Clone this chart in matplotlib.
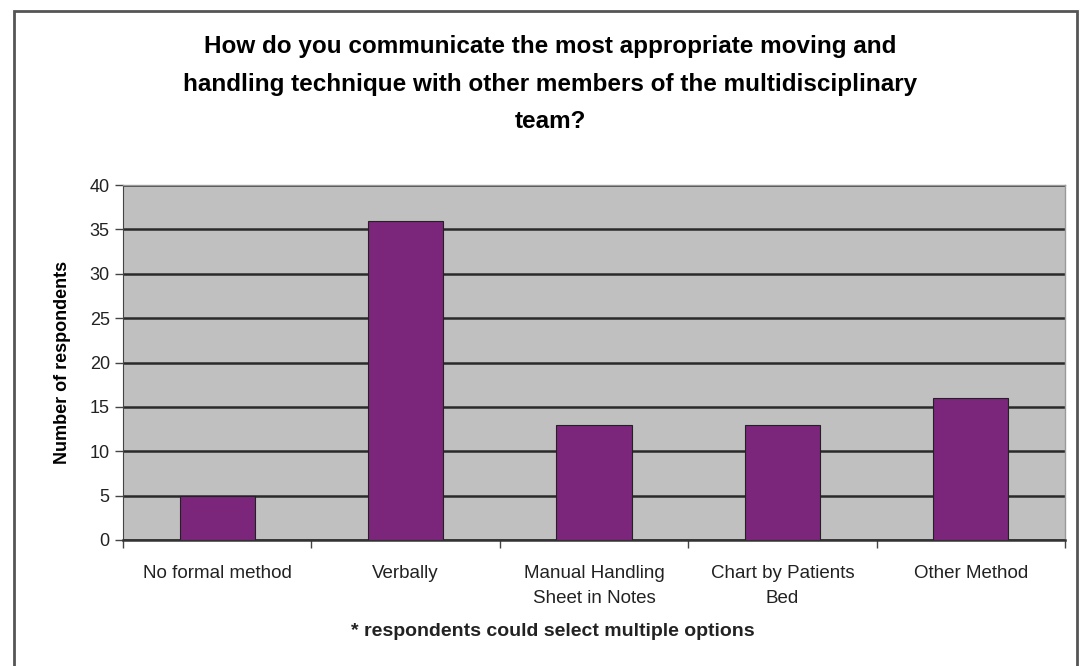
import matplotlib
matplotlib.use("Agg")
import matplotlib.pyplot as plt
from matplotlib.patches import Rectangle

categories = ["No formal method", "Verbally", "Manual Handling\nSheet in Notes",
              "Chart by Patients\nBed", "Other Method"]
values = [5, 36, 13, 13, 16]
y_ticks = [0, 5, 10, 15, 20, 25, 30, 35, 40]

title = ("How do you communicate the most appropriate moving and\n"
         "handling technique with other members of the multidisciplinary\n"
         "team?")
footnote = "* respondents could select multiple options"

plt.rcParams['font.family'] = ['Liberation Sans', 'DejaVu Sans']

fig = plt.figure(figsize=(10.81, 6.66), dpi=100)
fig.patch.set_facecolor('white')

# outer chart border
fig.patches.append(Rectangle((14 / 1081, -0.02), 1063 / 1081, 1.02 - 11 / 666,
                             transform=fig.transFigure, fill=False,
                             edgecolor='#555555', linewidth=2))

ax = fig.add_axes([123 / 1081, 1 - 540 / 666, 942 / 1081, 355 / 666])
ax.set_facecolor('#c0c0c0')

x = range(len(categories))
ax.bar(x, values, width=0.4, color='#7b267b', edgecolor='#222222', linewidth=0.8, zorder=3)

ax.set_xlim(-0.5, len(categories) - 0.5)
ax.set_ylim(0, 40)
ax.set_yticks(y_ticks)
ax.yaxis.grid(True, color='#2a2a2a', linewidth=1.8, zorder=1)
ax.set_axisbelow(True)

# category boundaries get the tick marks, labels sit in the middle
ax.set_xticks([i + 0.5 for i in range(-1, len(categories))])
ax.set_xticklabels([])
ax.set_xticks(list(x), minor=True)
ax.set_xticklabels(categories, minor=True, fontsize=13.5, color='#222222', linespacing=1.6)
ax.tick_params(axis='x', which='minor', length=0, pad=18)
ax.tick_params(axis='x', which='major', length=6, width=1, color='#444444', direction='out')
ax.tick_params(axis='y', length=6, width=1, color='#444444', labelsize=13, labelcolor='#222222')

for side in ['top', 'right']:
    ax.spines[side].set_color('#999999')
    ax.spines[side].set_linewidth(1)
ax.spines['left'].set_color('#444444')
ax.spines['bottom'].set_color('#333333')
ax.spines['bottom'].set_linewidth(1.8)

ax.set_ylabel("Number of respondents", fontsize=13, fontweight='bold')
ax.yaxis.set_label_coords(-52 / 942, 0.5)

fig.text(550 / 1081, 1 - 84 / 666, title, ha='center', va='center', fontsize=17.5,
         fontweight='bold', linespacing=1.78)
fig.text(553 / 1081, 1 - 632 / 666, footnote, ha='center', va='center', fontsize=14,
         fontweight='bold', color='#222222')

fig.savefig("out.png", dpi=100)
